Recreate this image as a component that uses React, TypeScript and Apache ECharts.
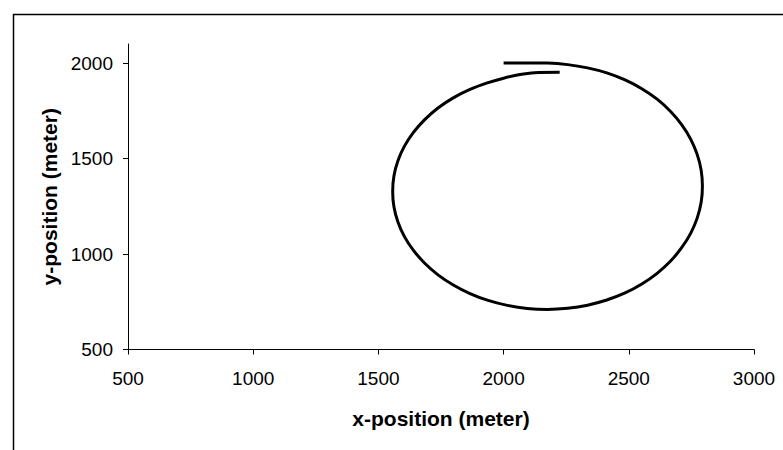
import React, { useEffect, useRef } from "react";
import * as echarts from "echarts";

const xPositions = [
  2000, 2090, 2175, 2256, 2335, 2412, 2485, 2552, 2613, 2666, 2711, 2747, 2773, 2789, 2794,
  2789, 2773, 2747, 2711, 2666, 2613, 2552, 2485, 2412, 2335, 2256, 2175,
  2094, 2015, 1938, 1866, 1799, 1738, 1685, 1640, 1604, 1578, 1562, 1557,
  1562, 1578, 1604, 1640, 1685, 1738, 1799, 1866, 1935, 2000, 2060, 2124, 2224,
];
const yPositions = [
  2001, 2001, 2000, 1992, 1975, 1949, 1912, 1866, 1811, 1748, 1678, 1602, 1522, 1439, 1355,
  1271, 1188, 1108, 1033, 962, 899, 843, 796, 759, 732, 716, 710,
  715, 731, 757, 793, 838, 891, 952, 1019, 1091, 1168, 1247, 1328,
  1409, 1488, 1565, 1637, 1704, 1765, 1818, 1862, 1896, 1921, 1939, 1950, 1952,
];
const xTicks = [500, 1000, 1500, 2000, 2500, 3000];
const yTicks = [500, 1000, 1500, 2000];

export default function App() {
  const ref = useRef<HTMLDivElement>(null);
  useEffect(() => {
    if (!ref.current) return;
    const chart = echarts.init(ref.current, null, { renderer: "svg" });
    const font = "'Liberation Sans', Arial, sans-serif";
    chart.setOption({
      animation: false,
      backgroundColor: "#ffffff",
      grid: { left: 128, right: 29, top: 44, bottom: 100.5, containLabel: false },
      graphic: [
        {
          type: "rect",
          shape: { x: 13.5, y: 14.5, width: 800, height: 500 },
          style: { fill: "none", stroke: "#000", lineWidth: 1.5 },
          silent: true,
        },
      ],
      xAxis: {
        type: "value",
        min: 500,
        max: 3000,
        interval: 500,
        name: "x-position (meter)",
        nameLocation: "middle",
        nameGap: 58,
        nameTextStyle: { fontFamily: font, fontSize: 21, fontWeight: "bold", color: "#000" },
        axisLine: { show: true, lineStyle: { color: "#000", width: 1 } },
        axisTick: { show: true, length: 5, inside: false, lineStyle: { color: "#000" }, customValues: xTicks },
        axisLabel: {
          fontFamily: font,
          fontSize: 19,
          color: "#000",
          margin: 19,
          customValues: xTicks,
          formatter: (v: number) => String(v),
        },
        splitLine: { show: false },
      },
      yAxis: {
        type: "value",
        min: 500,
        max: 2100,
        interval: 500,
        name: "y-position (meter)",
        nameLocation: "middle",
        nameGap: 64,
        nameRotate: 90,
        nameTextStyle: { fontFamily: font, fontSize: 21, fontWeight: "bold", color: "#000" },
        axisLine: { show: true, lineStyle: { color: "#000", width: 1 } },
        axisTick: { show: true, length: 5, inside: false, lineStyle: { color: "#000" }, customValues: yTicks },
        axisLabel: {
          fontFamily: font,
          fontSize: 19,
          color: "#000",
          margin: 15,
          customValues: yTicks,
          formatter: (v: number) => String(v),
        },
        splitLine: { show: false },
      },
      series: [
        {
          type: "line",
          data: xPositions.map((x, i) => [x, yPositions[i]]),
          showSymbol: false,
          smooth: 0.3,
          lineStyle: { color: "#000", width: 3 },
        },
      ],
    });
    return () => chart.dispose();
  }, []);
  return (
    <div
      ref={ref}
      style={{ position: "fixed", left: 0, top: 0, width: 783, height: 450, background: "#fff" }}
    />
  );
}
